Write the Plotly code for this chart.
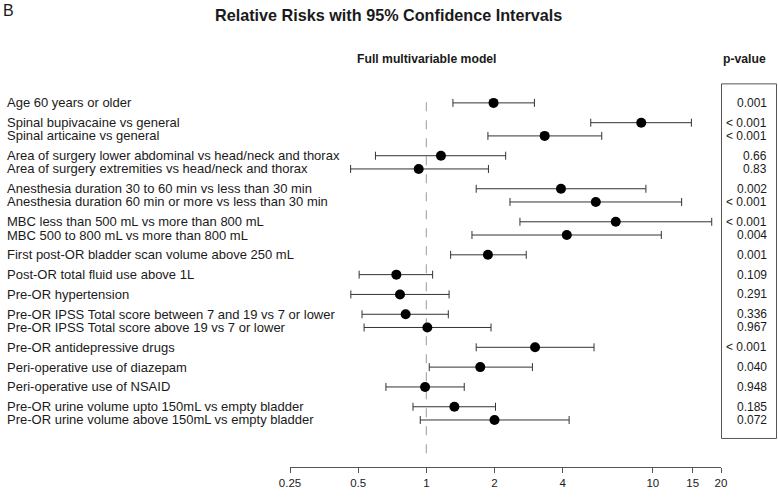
import math
import plotly.graph_objects as go

# ---- data ----
groups = [
    ["Age 60 years or older"],
    ["Spinal bupivacaine vs general", "Spinal articaine vs general"],
    ["Area of surgery lower abdominal vs head/neck and thorax",
     "Area of surgery extremities vs head/neck and thorax"],
    ["Anesthesia duration 30 to 60 min vs less than 30 min",
     "Anesthesia duration 60 min or more vs less than 30 min"],
    ["MBC less than 500 mL vs more than 800 mL",
     "MBC 500 to 800 mL vs more than 800 mL"],
    ["First post-OR bladder scan volume above 250 mL"],
    ["Post-OR total fluid use above 1L"],
    ["Pre-OR hypertension"],
    ["Pre-OR IPSS Total score between 7 and 19 vs 7 or lower",
     "Pre-OR IPSS Total score above 19 vs 7 or lower"],
    ["Pre-OR antidepressive drugs"],
    ["Peri-operative use of diazepam"],
    ["Peri-operative use of NSAID"],
    ["Pre-OR urine volume upto 150mL vs empty bladder",
     "Pre-OR urine volume above 150mL vs empty bladder"],
]
rr    = [1.98, 8.89, 3.33, 1.16, 0.925, 3.93, 5.6, 6.86, 4.17, 1.87,
         0.737, 0.765, 0.81, 1.01, 3.02, 1.73, 0.987, 1.33, 2.0]
lower = [1.31, 5.32, 1.87, 0.596, 0.463, 1.66, 2.34, 2.59, 1.59, 1.28,
         0.505, 0.464, 0.52, 0.531, 1.66, 1.03, 0.663, 0.873, 0.94]
upper = [3.0, 14.8, 5.95, 2.24, 1.88, 9.32, 13.4, 18.2, 10.9, 2.76,
         1.066, 1.26, 1.25, 1.93, 5.5, 2.94, 1.47, 2.02, 4.27]
pvals = ["0.001", "< 0.001", "< 0.001", "0.66", "0.83", "0.002", "< 0.001",
         "< 0.001", "0.004", "0.001", "0.109", "0.291", "0.336", "0.967",
         "< 0.001", "0.040", "0.948", "0.185", "0.072"]
tick_vals = [0.25, 0.5, 1, 2, 4, 10, 15, 20]
tick_text = ["0.25", "0.5", "1", "2", "4", "10", "15", "20"]

# ---- row positions (1 within group, 1.5 between groups) ----
labels, ypos = [], []
pos = 0.0
for gi, g in enumerate(groups):
    if gi > 0:
        pos += 1.5
    for j, lab in enumerate(g):
        if j > 0:
            pos += 1.0
        labels.append(lab)
        ypos.append(pos)

FONT = "Liberation Sans, Arial, sans-serif"
W, H = 778, 501
L, R = 290, 57
plot_w = W - L - R

def px_to_paper_x(px):
    return (px - L) / plot_w

fig = go.Figure()
fig.add_trace(go.Scatter(
    x=rr, y=ypos, mode="markers",
    marker=dict(color="black", size=10),
    error_x=dict(type="data", symmetric=False,
                 array=[u - r for u, r in zip(upper, rr)],
                 arrayminus=[r - l for r, l in zip(rr, lower)],
                 color="#333333", thickness=1, width=4),
    hoverinfo="skip", showlegend=False,
))

# reference line at 1
fig.add_shape(type="line", xref="x", yref="y", x0=1, x1=1, y0=-0.05, y1=27.0,
              line=dict(color="#aaaaaa", width=1.2, dash="dash"), layer="below")

annotations = []
for lab, y in zip(labels, ypos):
    annotations.append(dict(text=lab, xref="paper", yref="y",
                            x=px_to_paper_x(5), y=y, xanchor="left",
                            yanchor="middle", showarrow=False,
                            font=dict(family=FONT, size=13, color="#1a1a1a")))
for p, y in zip(pvals, ypos):
    annotations.append(dict(text=p, xref="paper", yref="y",
                            x=px_to_paper_x(769), y=y, xanchor="right",
                            yanchor="middle", showarrow=False,
                            font=dict(family=FONT, size=12, color="#1a1a1a")))

# p-value box
fig.add_shape(type="rect", xref="paper", yref="y",
              x0=px_to_paper_x(721.5), x1=px_to_paper_x(776.5),
              y0=-1.44, y1=25.4, line=dict(color="#555555", width=1))

annotations += [
    dict(text="<b>Relative Risks with 95% Confidence Intervals</b>",
         xref="paper", yref="paper", x=px_to_paper_x(388), y=1,
         xanchor="center", yanchor="middle", yshift=(80 - 15), showarrow=False,
         font=dict(family=FONT, size=16.2, color="#1a1a1a")),
    dict(text="B", xref="paper", yref="paper", x=px_to_paper_x(1), y=1,
         xanchor="left", yanchor="middle", yshift=(80 - 10), showarrow=False,
         font=dict(family=FONT, size=16, color="#1a1a1a")),
    dict(text="<b>Full multivariable model</b>", xref="paper", yref="paper",
         x=px_to_paper_x(427), y=1, xanchor="center", yanchor="middle",
         yshift=(80 - 59), showarrow=False,
         font=dict(family=FONT, size=12.2, color="#1a1a1a")),
    dict(text="<b>p-value</b>", xref="paper", yref="paper",
         x=px_to_paper_x(744), y=1, xanchor="center", yanchor="middle",
         yshift=(80 - 59), showarrow=False,
         font=dict(family=FONT, size=12.2, color="#1a1a1a")),
]

fig.update_layout(
    width=W, height=H,
    margin=dict(l=L, r=R, t=80, b=20),
    paper_bgcolor="white", plot_bgcolor="white",
    annotations=annotations,
    xaxis=dict(type="log", range=[math.log10(0.25), math.log10(20)],
               tickvals=tick_vals, ticktext=tick_text,
               showgrid=False, zeroline=False,
               showline=True, linecolor="#555555", linewidth=1,
               ticks="outside", ticklen=5, tickcolor="#555555",
               tickfont=dict(family=FONT, size=11.5, color="#1a1a1a")),
    yaxis=dict(range=[27.56, -1.732], visible=False, showgrid=False,
               zeroline=False),
)

fig.write_html("out.html",
               config={"displayModeBar": False, "staticPlot": True},
               post_script="document.body.style.margin='0';document.body.style.padding='0';")
